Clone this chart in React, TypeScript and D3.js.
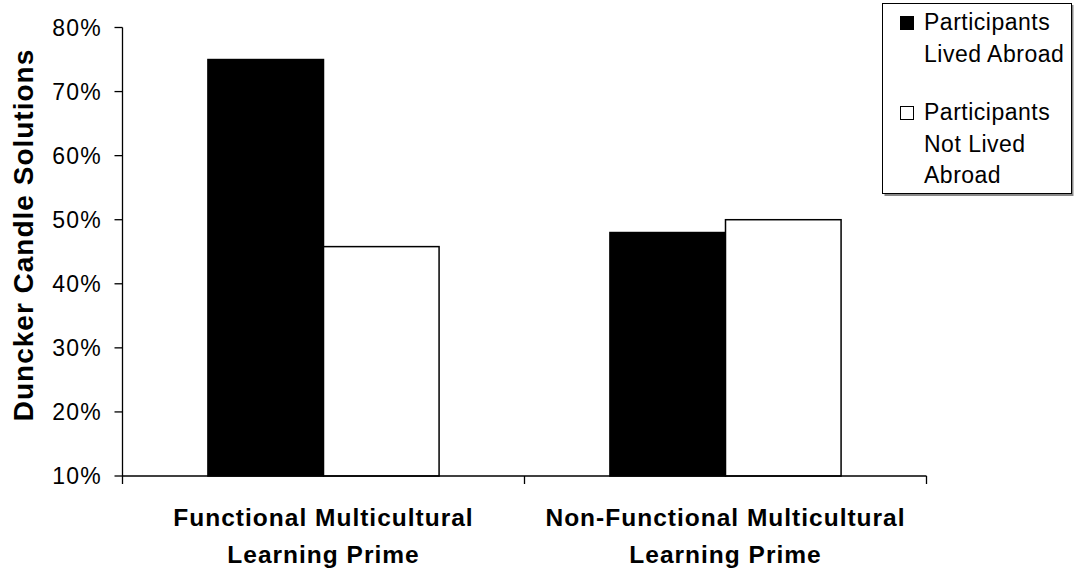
import * as d3 from "d3";

const categories = [
  ["Functional Multicultural", "Learning Prime"],
  ["Non-Functional Multicultural", "Learning Prime"],
];
const seriesNames = ["Participants Lived Abroad", "Participants Not Lived Abroad"];
const legendLines = [
  ["Participants", "Lived Abroad"],
  ["Participants", "Not Lived", "Abroad"],
];
const livedAbroad = [0.75, 0.48];
const notLivedAbroad = [0.458, 0.5];
const yTicks = [0.1, 0.2, 0.3, 0.4, 0.5, 0.6, 0.7, 0.8];

const W = 1074;
const H = 576;
const M = { left: 122.5, right: 926.5, top: 27.5, bottom: 476 };
const FONT = "'Liberation Sans', Arial, sans-serif";

export default function App() {
  const keys = categories.map((c) => c.join(" "));
  const x0 = d3
    .scaleBand<string>()
    .domain(keys)
    .range([M.left, M.right])
    .paddingInner(0.425)
    .paddingOuter(0.2125);
  const x1 = d3
    .scaleBand<number>()
    .domain([0, 1])
    .range([0, x0.bandwidth()]);
  const y = d3.scaleLinear().domain([0.1, 0.8]).range([M.bottom, M.top]);
  const fmt = d3.format(".0%");
  const series = [livedAbroad, notLivedAbroad];
  const fills = ["#000", "#fff"];
  const step = x0.step();
  const boundaries = d3.range(keys.length + 1).map((i) => M.left + i * step);

  return (
    <svg
      width={W}
      height={H}
      style={{ position: "absolute", left: 0, top: 0, background: "#fff" }}
      fontFamily={FONT}
    >
      {/* bars */}
      {keys.map((k, ci) =>
        series.map((s, si) => (
          <rect
            key={k + si}
            x={(x0(k) ?? 0) + (x1(si) ?? 0)}
            y={y(s[ci])}
            width={x1.bandwidth()}
            height={M.bottom - y(s[ci])}
            fill={fills[si]}
            stroke="#000"
            strokeWidth={1.5}
          />
        ))
      )}

      {/* y axis */}
      <line x1={M.left} x2={M.left} y1={M.top} y2={M.bottom} stroke="#000" strokeWidth={1.3} />
      {yTicks.map((t) => (
        <g key={t} transform={`translate(0, ${y(t)})`}>
          <line x1={M.left - 8} x2={M.left} stroke="#000" strokeWidth={1.3} />
          <text x={102} dy={8} textAnchor="end" fontSize={23} letterSpacing={1.2}>
            {fmt(t)}
          </text>
        </g>
      ))}

      {/* x axis */}
      <line x1={M.left} x2={M.right} y1={M.bottom} y2={M.bottom} stroke="#000" strokeWidth={1.3} />
      {boundaries.map((b) => (
        <line key={b} x1={b} x2={b} y1={M.bottom} y2={M.bottom + 8} stroke="#000" strokeWidth={1.3} />
      ))}
      {categories.map((lines, ci) => {
        const cx = (x0(keys[ci]) ?? 0) + x0.bandwidth() / 2;
        return (
          <text
            key={ci}
            x={cx}
            y={526}
            textAnchor="middle"
            fontSize={24.5}
            fontWeight="bold"
            letterSpacing={1}
          >
            {lines.map((l, li) => (
              <tspan key={li} x={cx} dy={li === 0 ? 0 : 37}>
                {l}
              </tspan>
            ))}
          </text>
        );
      })}

      {/* y title */}
      <text
        transform={`translate(33, 235) rotate(-90)`}
        textAnchor="middle"
        fontSize={28}
        fontWeight="bold"
        letterSpacing={1}
      >
        Duncker Candle Solutions
      </text>

      {/* legend */}
      <rect x={884.5} y={5} width={189} height={191} fill="#888" />
      <rect x={882.5} y={3.5} width={189} height={190} fill="#fff" stroke="#000" strokeWidth={1} />
      {legendLines.map((lines, i) => {
        const base = i === 0 ? 30 : 120;
        return (
          <g key={seriesNames[i]}>
            <rect
              x={900.5}
              y={base - 13.5}
              width={13}
              height={13}
              fill={fills[i]}
              stroke="#000"
              strokeWidth={1}
            />
            {lines.map((l, li) => (
              <text key={li} x={924} y={base + li * 31.5} fontSize={23} letterSpacing={0.5}>
                {l}
              </text>
            ))}
          </g>
        );
      })}
    </svg>
  );
}
